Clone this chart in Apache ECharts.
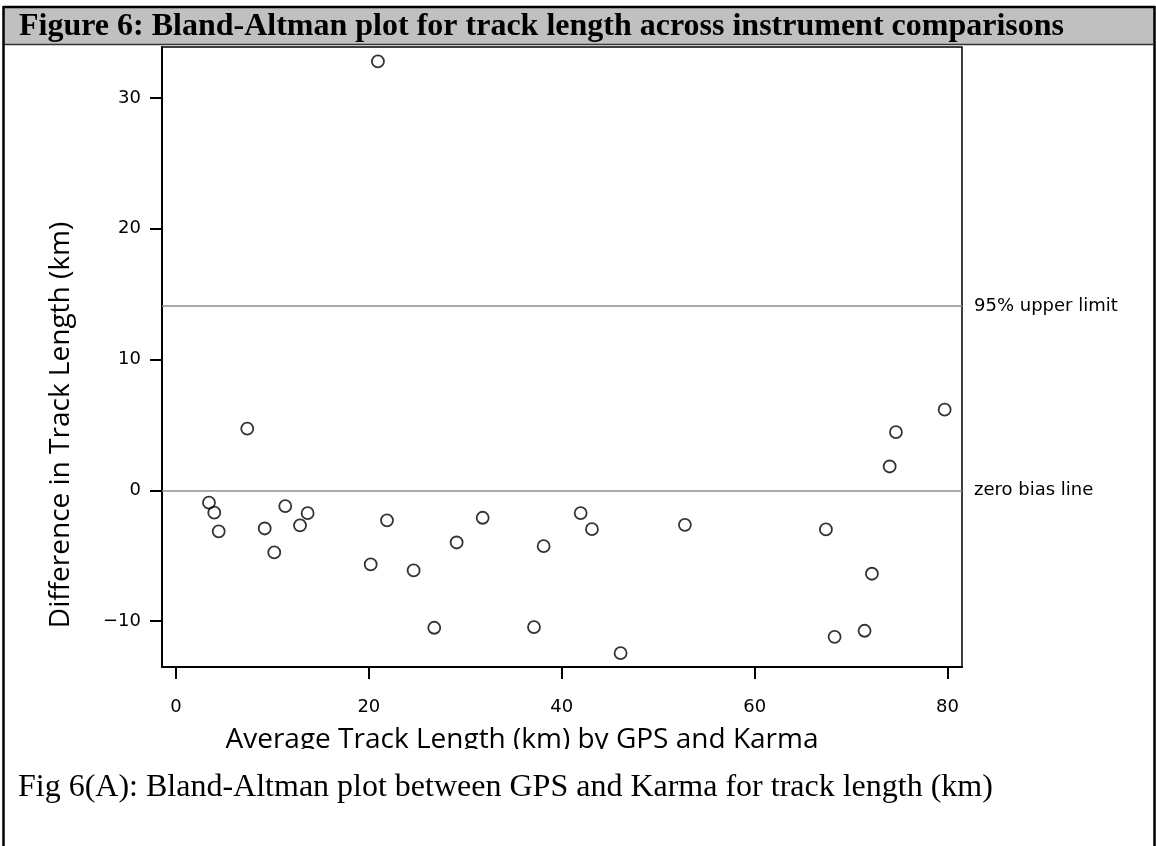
<!DOCTYPE html>
<html>
<head>
<meta charset="utf-8">
<title>Bland-Altman plot for track length</title>
<script src="https://cdn.jsdelivr.net/npm/echarts@6/dist/echarts.min.js"></script>
<style>
  html, body { margin: 0; padding: 0; background: #fff; }
  #chart { width: 1156px; height: 846px; }
</style>
</head>
<body>
<div id="chart"></div>
<script>
// Average of the two instruments (km) for each track
const avgLength = [
  20.94, 3.42, 3.97, 4.43, 7.39, 9.20, 10.19, 11.33, 12.86, 13.65,
  20.19, 21.88, 24.64, 26.78, 29.10, 31.80, 38.12, 37.12, 41.96, 43.13,
  46.10, 52.77, 67.39, 68.29, 71.40, 72.16, 74.00, 74.65, 79.70
];
// Difference between the two instruments (km) for each track
const diffLength = [
  32.80, -0.94, -1.70, -3.13, 4.72, -2.91, -4.74, -1.20, -2.68, -1.74,
  -5.66, -2.29, -6.12, -10.50, -3.98, -2.09, -4.26, -10.45, -1.73, -2.96,
  -12.44, -2.63, -2.98, -11.19, -10.73, -6.37, 1.83, 4.46, 6.17
];
// Reference lines
const upperLimit = 14.1;
const zeroBias = 0;
const refLabels = ['95% upper limit', 'zero bias line'];
// Tick positions
const xTicks = [0, 20, 40, 60, 80];
const yTicks = [-10, 0, 10, 20, 30];

const points = avgLength.map((v, i) => [v, diffLength[i]]);

const tickFont = '"DejaVu Sans", sans-serif';
const titleFont = '"Open Sans", "Liberation Sans", sans-serif';
const serifFont = '"Liberation Serif", "Times New Roman", serif';

const chart = echarts.init(document.getElementById('chart'), null, { renderer: 'canvas' });

chart.setOption({
  backgroundColor: '#ffffff',
  animation: false,
  grid: {
    left: 162, top: 47, right: 194, bottom: 179,
    show: true, borderColor: '#000', borderWidth: 1.5, backgroundColor: 'transparent'
  },
  xAxis: {
    type: 'value', min: -1.45, max: 81.5,
    axisLine: { show: true, onZero: false, lineStyle: { color: '#000', width: 2 } },
    axisTick: { show: true, inside: false, length: 12, lineStyle: { color: '#000', width: 2 }, customValues: xTicks },
    axisLabel: { customValues: xTicks, margin: 31, color: '#000', fontSize: 18, fontFamily: tickFont },
    splitLine: { show: false }
  },
  yAxis: {
    type: 'value', min: -13.5, max: 33.9,
    axisLine: { show: true, onZero: false, lineStyle: { color: '#000', width: 2 } },
    axisTick: { show: true, inside: false, length: 12, lineStyle: { color: '#000', width: 2 }, customValues: yTicks },
    axisLabel: { customValues: yTicks, margin: 21, color: '#000', fontSize: 18, fontFamily: tickFont,
      formatter: v => (v < 0 ? '\u2212' + Math.abs(v) : String(v)) },
    splitLine: { show: false }
  },
  series: [{
    type: 'scatter',
    data: points,
    symbol: 'circle',
    symbolSize: 12,
    itemStyle: { color: 'rgba(0,0,0,0)', borderColor: '#000', borderWidth: 1.8 },
    emphasis: { disabled: true },
    silent: true,
    markLine: {
      silent: true,
      symbol: ['none', 'none'],
      lineStyle: { color: '#8c8c8c', width: 1.5, type: 'solid' },
      label: {
        show: true, position: 'end', distance: 12, formatter: '{b}',
        color: '#000', fontSize: 18, fontFamily: tickFont
      },
      data: [
        { name: refLabels[0], yAxis: upperLimit },
        { name: refLabels[1], yAxis: zeroBias }
      ]
    }
  }],
  graphic: [
    // header band
    { type: 'rect', shape: { x: 4, y: 8, width: 1150, height: 36 }, style: { fill: '#c0c0c0' }, z: 1 },
    { type: 'line', shape: { x1: 4, y1: 44.5, x2: 1153, y2: 44.5 }, style: { stroke: '#333', lineWidth: 1.5 }, z: 2 },
    { type: 'text', x: 19, y: 27, style: {
        text: 'Figure 6: Bland-Altman plot for track length across instrument comparisons',
        font: 'bold 32px ' + serifFont, fill: '#000', textAlign: 'left', textVerticalAlign: 'middle'
      }, z: 3 },
    // outer frame
    { type: 'line', shape: { x1: 3, y1: 7, x2: 1155, y2: 7 }, style: { stroke: '#000', lineWidth: 2.5 }, z: 4 },
    { type: 'line', shape: { x1: 3.5, y1: 6, x2: 3.5, y2: 846 }, style: { stroke: '#000', lineWidth: 2.5 }, z: 4 },
    { type: 'line', shape: { x1: 1154.5, y1: 6, x2: 1154.5, y2: 846 }, style: { stroke: '#000', lineWidth: 2.5 }, z: 4 },
    // axis titles
    { type: 'text', x: 61, y: 425, rotation: Math.PI / 2, style: {
        text: 'Difference in Track Length (km)', font: '28px ' + titleFont, fill: '#000',
        textAlign: 'center', textVerticalAlign: 'middle'
      }, z: 3 },
    { type: 'text', x: 522, y: 740, style: {
        text: 'Average Track Length (km) by GPS and Karma', font: '28px ' + titleFont, fill: '#000',
        textAlign: 'center', textVerticalAlign: 'middle'
      }, z: 3 },
    // lower edge of the plot image trims the axis title
    { type: 'rect', shape: { x: 150, y: 749, width: 800, height: 18 }, style: { fill: '#fff' }, z: 5 },
    // caption
    { type: 'text', x: 18, y: 788, style: {
        text: 'Fig 6(A): Bland-Altman plot between GPS and Karma for track length (km)',
        font: '32px ' + serifFont, fill: '#000', textAlign: 'left', textVerticalAlign: 'middle'
      }, z: 3 }
  ]
});
</script>
</body>
</html>
